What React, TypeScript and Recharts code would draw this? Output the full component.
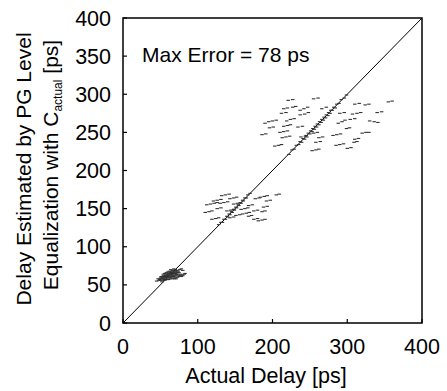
import React from 'react';
import { ScatterChart, Scatter, XAxis, YAxis, ReferenceLine, ReferenceArea, Customized } from 'recharts';

const xTicks = [0, 100, 200, 300, 400];
const yTicks = [0, 50, 100, 150, 200, 250, 300, 350, 400];
const axisDomain: [number, number] = [0, 400];
const maxErrorText = 'Max Error = 78 ps';

const lowCluster: [number, number][] = [
  [47, 58], [49, 57], [50, 59], [51, 61], [52, 58], [53, 60], [54, 62], [55, 57], [55, 59], [56, 61],
  [57, 63], [57, 58], [58, 60], [58, 62], [59, 64], [60, 59], [60, 61], [61, 63], [62, 60], [62, 65],
  [63, 58], [63, 62], [64, 64], [64, 60], [65, 66], [65, 61], [66, 63], [67, 59], [67, 65], [68, 61],
  [68, 67], [69, 63], [70, 60], [70, 65], [71, 62], [72, 67], [72, 64], [73, 60], [74, 63], [75, 61],
  [75, 66], [76, 62], [77, 64], [78, 61], [79, 63], [80, 62], [82, 64], [83, 65], [53, 56], [56, 56],
  [59, 57], [61, 57], [66, 58], [69, 58], [71, 58], [50, 56], [48, 56], [62, 68], [64, 70], [66, 69],
  [68, 71], [70, 70], [76, 70], [78, 71], [80, 69], [45, 55], [52, 54], [58, 66], [60, 67],
  [54, 64], [56, 65], [59, 62], [61, 65], [63, 66], [65, 64], [67, 62], [69, 66], [71, 64], [73, 66],
  [74, 68], [72, 69], [70, 68], [66, 67], [64, 67], [60, 63], [57, 60], [55, 61], [53, 58], [51, 59],
];

const midDiagonal: [number, number][] = [
  [128, 129], [131, 132], [133, 132], [135, 136], [137, 136], [139, 140], [140, 139], [142, 143],
  [143, 142], [145, 146], [146, 145], [148, 149], [149, 148], [151, 152], [152, 151], [154, 155],
  [155, 154], [157, 158], [158, 157], [160, 161], [161, 160], [163, 164], [165, 164], [167, 168], [170, 170],
];

const midSpread: [number, number][] = [
  [132, 167], [137, 168], [142, 169], [184, 165], [189, 166], [193, 167], [205, 168], [209, 169],
  [121, 160], [126, 161], [131, 162], [143, 163], [148, 164], [152, 165], [177, 163], [182, 164],
  [192, 160], [197, 161], [112, 155], [117, 156], [122, 157], [126, 158], [130, 157], [135, 158],
  [140, 159], [148, 156], [153, 157], [168, 154], [173, 155], [188, 152], [193, 153], [110, 145],
  [115, 146], [119, 147], [126, 150], [131, 151], [139, 147], [144, 148], [148, 149], [158, 149],
  [163, 150], [167, 151], [175, 147], [180, 148], [186, 146], [190, 147], [165, 144], [169, 145],
  [119, 136], [124, 137], [128, 138], [143, 138], [148, 139], [151, 141], [156, 142], [160, 143],
  [168, 140], [172, 141], [175, 136], [180, 137], [181, 134], [186, 135], [190, 136],
];

const highDiagonal: [number, number][] = [
  [222, 221], [226, 227], [229, 228], [232, 233], [235, 234], [237, 238], [239, 237], [241, 242],
  [243, 241], [245, 246], [246, 244], [248, 249], [250, 248], [251, 252], [253, 251], [254, 255],
  [256, 254], [257, 258], [259, 257], [260, 261], [262, 260], [263, 264], [265, 263], [266, 267],
  [268, 266], [269, 270], [271, 269], [272, 273], [274, 272], [275, 276], [277, 275], [278, 279],
  [280, 279], [282, 283], [284, 282], [286, 287], [289, 288], [292, 293], [296, 295], [299, 299],
];

const highSpread: [number, number][] = [
  [221, 292], [227, 293], [255, 294], [261, 295], [310, 287], [316, 288], [324, 286], [329, 287],
  [355, 290], [360, 291], [215, 281], [220, 282], [227, 283], [231, 284], [237, 279], [242, 281],
  [247, 283], [266, 281], [272, 283], [212, 275], [218, 276], [237, 273], [243, 274], [248, 276],
  [290, 275], [296, 276], [307, 274], [313, 275], [318, 276], [340, 276], [346, 277], [190, 262],
  [195, 264], [200, 265], [205, 266], [219, 265], [224, 267], [229, 268], [288, 262], [293, 264],
  [297, 266], [304, 267], [310, 268], [330, 265], [336, 264], [341, 263], [196, 256], [201, 257],
  [215, 258], [220, 259], [224, 260], [234, 257], [240, 258], [299, 255], [303, 256], [186, 247],
  [191, 248], [210, 250], [215, 251], [220, 252], [255, 249], [260, 250], [281, 246], [286, 247],
  [291, 248], [320, 249], [325, 250], [329, 250], [213, 243], [218, 244], [223, 245], [238, 244],
  [244, 245], [262, 243], [267, 244], [310, 241], [315, 242], [203, 232], [208, 233], [212, 234],
  [258, 237], [264, 238], [285, 233], [290, 234], [295, 235], [309, 237], [313, 238], [253, 226],
  [258, 227], [262, 228], [300, 229], [305, 230],
];

const FONT = '"Liberation Sans", Arial, Helvetica, sans-serif';

const toPoints = (arr: [number, number][]) => arr.map(([x, y]) => ({ x, y }));
const allPoints = [
  ...toPoints(lowCluster),
  ...toPoints(midDiagonal),
  ...toPoints(midSpread),
  ...toPoints(highDiagonal),
  ...toPoints(highSpread),
];

const Dash = (props: any) => {
  const { cx, cy } = props;
  if (cx == null || cy == null) return null;
  return <line x1={cx - 1.75} x2={cx + 1.75} y1={cy} y2={cy} stroke="#333" strokeWidth={1.1} />;
};

const XTick = (props: any) => {
  const { x, y, payload } = props;
  return (
    <g>
      <line x1={x} x2={x} y1={y} y2={y - 4} stroke="#000" strokeWidth={1.2} />
      <text x={x} y={y + 31} textAnchor="middle" fontFamily={FONT} fontSize={21.5} fill="#000">
        {payload.value}
      </text>
    </g>
  );
};

const YTick = (props: any) => {
  const { x, y, payload } = props;
  return (
    <g>
      <line x1={x} x2={x + 4} y1={y} y2={y} stroke="#000" strokeWidth={1.2} />
      <text x={x - 12} y={y + 7.5} textAnchor="end" fontFamily={FONT} fontSize={21.5} fill="#000">
        {payload.value}
      </text>
    </g>
  );
};

const Texts = () => (
  <g fontFamily={FONT} fill="#000">
    <text x={142} y={62} fontSize={21}>{maxErrorText}</text>
    <text x={31} y={169} fontSize={21} textAnchor="middle" transform="rotate(-90 31 169)">
      Delay Estimated by PG Level
    </text>
    <text x={58} y={165} fontSize={21} textAnchor="middle" transform="rotate(-90 58 165)">
      Equalization with C
      <tspan fontSize={12} dy={4}>actual</tspan>
      <tspan dy={-4}> [ps]</tspan>
    </text>
    <text x={266} y={383} fontSize={21.5} textAnchor="middle">Actual Delay [ps]</text>
  </g>
);

export default function App() {
  return (
    <div style={{ position: 'absolute', left: 0, top: 0, background: '#fff' }}>
      <ScatterChart width={447} height={391} margin={{ top: 18, right: 25, bottom: 28, left: 63 }}>
        <XAxis
          type="number"
          dataKey="x"
          domain={axisDomain}
          ticks={xTicks}
          interval={0}
          height={40}
          tickSize={0}
          tickMargin={0}
          axisLine={false}
          tickLine={false}
          tick={<XTick />}
          allowDataOverflow
        />
        <YAxis
          type="number"
          dataKey="y"
          domain={axisDomain}
          ticks={yTicks}
          interval={0}
          width={60}
          tickSize={0}
          tickMargin={0}
          axisLine={false}
          tickLine={false}
          tick={<YTick />}
          allowDataOverflow
        />
        <ReferenceArea x1={0} x2={400} y1={0} y2={400} fill="none" stroke="#000" strokeWidth={1.5} />
        <Scatter data={allPoints} shape={<Dash />} isAnimationActive={false} />
        <ReferenceLine segment={[{ x: 0, y: 0 }, { x: 400, y: 400 }]} stroke="#000" strokeWidth={1} />
        <Customized component={<Texts />} />
      </ScatterChart>
    </div>
  );
}
